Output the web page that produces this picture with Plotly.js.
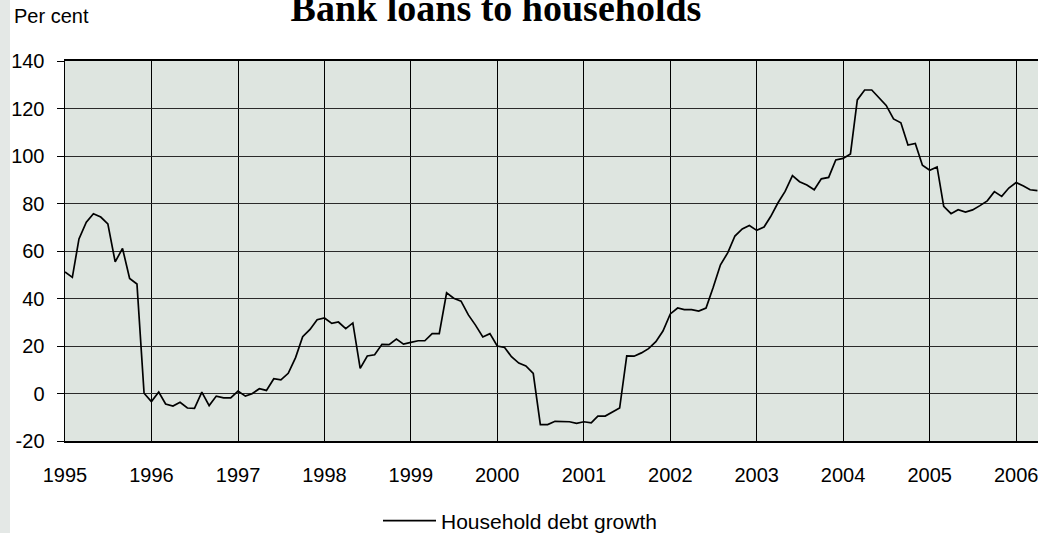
<!DOCTYPE html>
<html>
<head>
<meta charset="utf-8">
<script src="https://cdn.plot.ly/plotly-3.0.1.min.js"></script>
<style>
  html, body { margin: 0; padding: 0; overflow: hidden; background: #fff; }
  #chart { width: 1060px; height: 533px; }
</style>
</head>
<body>
<div id="chart"></div>
<script>
// Monthly household debt growth, per cent, Jan 1995 - Apr 2006
const years = ['1995','1996','1997','1998','1999','2000','2001','2002','2003','2004','2005','2006'];
const yTickValues = [-20, 0, 20, 40, 60, 80, 100, 120, 140];
const yTickLabels = ['-20', '0', '20', '40', '60', '80', '100', '120', '140'];
const growth1995 = [51.2, 48.9, 65.1, 72.1, 75.7, 74.3, 71.4, 55.4, 61.1, 48.4, 46.1, 0.1];
const growth1996 = [-3.4, 0.6, -4.4, -5.3, -3.7, -6.1, -6.3, 0.6, -5.1, -1.1, -1.8, -1.8];
const growth1997 = [1.0, -1.1, -0.1, 2.0, 1.3, 6.2, 5.7, 8.5, 15.1, 23.9, 27.0, 31.1];
const growth1998 = [31.8, 29.5, 30.1, 27.3, 29.7, 10.6, 15.8, 16.3, 20.7, 20.6, 22.9, 20.8];
const growth1999 = [21.5, 22.2, 22.2, 25.2, 25.2, 42.4, 40.1, 38.9, 33.1, 28.8, 23.8, 25.2];
const growth2000 = [20.0, 19.4, 15.5, 12.8, 11.6, 8.5, -13.1, -13.1, -11.7, -11.8, -11.9, -12.6];
const growth2001 = [-11.9, -12.4, -9.5, -9.5, -7.9, -6.1, 15.8, 15.7, 17.1, 18.9, 21.8, 26.3];
const growth2002 = [33.5, 36.0, 35.3, 35.3, 34.7, 36.0, 44.6, 54.2, 59.3, 66.3, 69.3, 70.7];
const growth2003 = [68.7, 70.1, 74.5, 80.3, 85.1, 91.7, 89.2, 87.8, 85.8, 90.4, 91.0, 98.3];
const growth2004 = [99.0, 100.8, 123.6, 127.8, 127.8, 124.6, 121.3, 115.6, 114.0, 104.6, 105.3, 96.1];
const growth2005 = [94.0, 95.4, 78.8, 75.7, 77.4, 76.4, 77.3, 79.1, 81.1, 85.0, 83.0, 86.5];
const growth2006 = [88.8, 87.4, 85.8, 85.4];

const seriesName = 'Household debt growth';
const chartTitle = 'Bank loans to households';
const unitLabel = 'Per cent';

const byYear = [growth1995, growth1996, growth1997, growth1998, growth1999, growth2000,
                growth2001, growth2002, growth2003, growth2004, growth2005, growth2006];
const dates = [], values = [];
byYear.forEach((arr, i) => {
  arr.forEach((v, m) => {
    dates.push(years[i] + '-' + String(m + 1).padStart(2, '0') + '-01');
    values.push(v);
  });
});

const W = 1060, H = 533;
const L = 65, R = 10, T = 61, B = 92;
const plotW = W - L - R, plotH = H - T - B;
const px = v => (v - L) / plotW;      // pixel x -> paper
const py = v => (H - B - v) / plotH;  // pixel y -> paper

const trace = {
  x: dates, y: values, type: 'scatter', mode: 'lines', name: seriesName,
  line: { color: '#000', width: 1.7 }
};

const layout = {
  width: W, height: H,
  margin: { l: L, r: R, t: T, b: B, pad: 0, autoexpand: false },
  paper_bgcolor: '#fff',
  plot_bgcolor: '#dee5e0',
  font: { family: 'Liberation Sans, Arial, sans-serif', color: '#000', size: 20 },
  title: {
    text: '<b>' + chartTitle + '</b>',
    font: { family: 'Liberation Serif, Times New Roman, serif', size: 38, color: '#000' },
    xref: 'container', x: 496 / W, xanchor: 'center',
    yref: 'container', y: 1 - 8 / H, yanchor: 'middle'
  },
  xaxis: {
    type: 'date',
    range: ['1995-01-01', '2006-05-24'],
    tickvals: years.map(y => y + '-01-01'),
    ticktext: years,
    ticks: '',
    showgrid: true, gridcolor: '#000', gridwidth: 1,
    showline: true, linecolor: '#000', linewidth: 2, mirror: true,
    zeroline: false,
    tickfont: { size: 20 },
    ticklabelstandoff: 15
  },
  yaxis: {
    range: [-20, 140],
    tickmode: 'array', tickvals: yTickValues, ticktext: yTickLabels,
    ticks: 'outside', ticklen: 7, tickwidth: 1, tickcolor: '#000',
    showgrid: true, gridcolor: '#2a2a2a', gridwidth: 1,
    showline: true, linecolor: '#000', linewidth: 1.5,
    zeroline: false,
    tickfont: { size: 20 },
    ticklabelstandoff: 8
  },
  showlegend: true,
  legend: {
    orientation: 'h',
    x: px(378), xanchor: 'left',
    y: py(521), yanchor: 'middle',
    font: { size: 21 },
    itemwidth: 53,
    bgcolor: 'rgba(0,0,0,0)'
  },
  annotations: [{
    text: unitLabel, showarrow: false,
    xref: 'paper', yref: 'paper',
    x: px(12), xanchor: 'left',
    y: py(16), yanchor: 'middle',
    font: { size: 20, color: '#000' }
  }],
  shapes: [{
    type: 'rect', xref: 'paper', yref: 'paper', layer: 'below',
    x0: px(0), x1: px(10), y0: py(H), y1: py(0),
    fillcolor: '#e4e8e6', line: { width: 0 }
  }]
};

Plotly.newPlot('chart', [trace], layout, { displayModeBar: false, staticPlot: true });
</script>
</body>
</html>
